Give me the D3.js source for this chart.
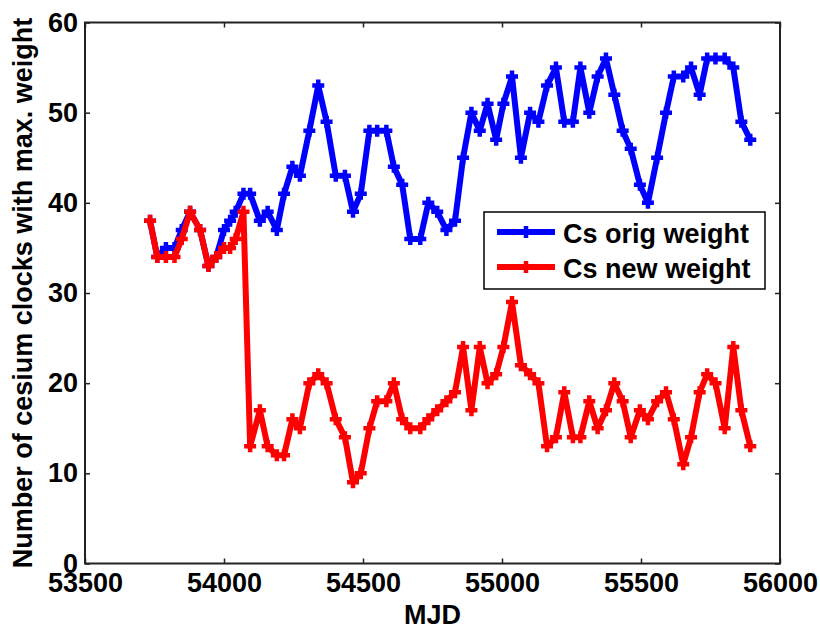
<!DOCTYPE html>
<html>
<head>
<meta charset="utf-8">
<script src="https://cdn.jsdelivr.net/npm/d3@7"></script>
<style>
  body { margin: 0; background: #fff; }
  .frame text { font-family: "Liberation Sans", Arial, sans-serif; font-weight: bold; }
</style>
</head>
<body>
<div id="vis1"></div>
<script>
// dates (MJD) shared by both series
const MJD = [53734, 53760, 53791, 53822, 53848, 53878, 53914, 53944, 53972, 54000,
             54022, 54042, 54070, 54094, 54129, 54157, 54190, 54216, 54246, 54273,
             54307, 54339, 54369, 54402, 54435, 54464, 54492, 54523, 54551, 54584,
             54611, 54641, 54670, 54706, 54735, 54767, 54800, 54831, 54860, 54890,
             54920, 54948, 54979, 55005, 55036, 55068, 55101, 55131, 55162, 55194,
             55224, 55255, 55282, 55314, 55344, 55374, 55404, 55434, 55463, 55496,
             55525, 55558, 55590, 55618, 55652, 55680, 55711, 55738, 55768, 55801,
             55832, 55861, 55893];

const ORIG_WEIGHT = [38, 34, 35, 35, 37, 39, 37, 33, 34, 37,
                     38, 39, 41, 41, 38, 39, 37, 41, 44, 43,
                     48, 53, 49, 43, 43, 39, 41, 48, 48, 48,
                     44, 42, 36, 36, 40, 39, 37, 38, 45, 50,
                     48, 51, 47, 51, 54, 45, 50, 49, 53, 55,
                     49, 49, 55, 50, 54, 56, 52, 48, 46, 42,
                     40, 45, 50, 54, 54, 55, 52, 56, 56, 56,
                     55, 49, 47];

const NEW_WEIGHT = [38, 34, 34, 34, 36, 39, 37, 33, 34, 35,
                    35, 36, 39, 13, 17, 13, 12, 12, 16, 15,
                    20, 21, 20, 16, 14, 9, 10, 15, 18, 18,
                    20, 16, 15, 15, 16, 17, 18, 19, 24, 17,
                    24, 20, 21, 24, 29, 22, 21, 20, 13, 14,
                    19, 14, 14, 18, 15, 17, 20, 18, 14, 17,
                    16, 18, 19, 16, 11, 14, 19, 21, 20, 15,
                    24, 17, 13];

const X_TICKS = [53500, 54000, 54500, 55000, 55500, 56000];
const Y_TICKS = [0, 10, 20, 30, 40, 50, 60];

const SERIES_NAMES = ["Cs orig weight", "Cs new weight"];
const SERIES_COLORS = ["#0000ff", "#ff0000"];

const FRAME_WIDTH = 820;
const FRAME_HEIGHT = 628;
const MARGINS = {left: 85, right: 40, top: 22.5, bottom: 64.5};
const VIS_WIDTH = FRAME_WIDTH - MARGINS.left - MARGINS.right;
const VIS_HEIGHT = FRAME_HEIGHT - MARGINS.top - MARGINS.bottom;

const FRAME1 = d3.select("#vis1")
                  .append("svg")
                    .attr("width", FRAME_WIDTH)
                    .attr("height", FRAME_HEIGHT)
                    .attr("class", "frame");

const X_SCALE = d3.scaleLinear()
                  .domain([53500, 56000])
                  .range([MARGINS.left, MARGINS.left + VIS_WIDTH]);

const Y_SCALE = d3.scaleLinear()
                  .domain([0, 60])
                  .range([MARGINS.top + VIS_HEIGHT, MARGINS.top]);

// box around plot
FRAME1.append("rect")
    .attr("x", MARGINS.left)
    .attr("y", MARGINS.top)
    .attr("width", VIS_WIDTH)
    .attr("height", VIS_HEIGHT)
    .attr("fill", "none")
    .attr("stroke", "#222")
    .attr("stroke-width", 2);

// bottom axis (ticks point inward)
FRAME1.append("g")
    .attr("transform", "translate(0," + (MARGINS.top + VIS_HEIGHT) + ")")
    .call(d3.axisBottom(X_SCALE).tickValues(X_TICKS).tickFormat(d3.format("d"))
            .tickSizeInner(-5).tickSizeOuter(0).tickPadding(9))
    .call(g => g.select(".domain").remove())
    .attr("font-size", "27px");

// top axis ticks only
FRAME1.append("g")
    .attr("transform", "translate(0," + MARGINS.top + ")")
    .call(d3.axisTop(X_SCALE).tickValues(X_TICKS).tickFormat("")
            .tickSizeInner(-5).tickSizeOuter(0))
    .call(g => g.select(".domain").remove());

// left axis
FRAME1.append("g")
    .attr("transform", "translate(" + MARGINS.left + ",0)")
    .call(d3.axisLeft(Y_SCALE).tickValues(Y_TICKS)
            .tickSizeInner(-5).tickSizeOuter(0).tickPadding(7))
    .call(g => g.select(".domain").remove())
    .attr("font-size", "27px");

// right axis ticks only
FRAME1.append("g")
    .attr("transform", "translate(" + (MARGINS.left + VIS_WIDTH) + ",0)")
    .call(d3.axisRight(Y_SCALE).tickValues(Y_TICKS).tickFormat("")
            .tickSizeInner(-5).tickSizeOuter(0))
    .call(g => g.select(".domain").remove());

FRAME1.selectAll(".tick line").attr("stroke", "#222").attr("stroke-width", 1.5);
FRAME1.selectAll(".tick text").attr("fill", "#000");

// axis titles
FRAME1.append("text")
    .attr("x", X_SCALE(54750))
    .attr("y", 624)
    .attr("text-anchor", "middle")
    .attr("font-size", "27px")
    .text("MJD");

FRAME1.append("text")
    .attr("transform", "translate(32," + (MARGINS.top + VIS_HEIGHT / 2) + ") rotate(-90)")
    .attr("text-anchor", "middle")
    .attr("font-size", "27px")
    .text("Number of cesium clocks with max. weight");

const PLUS = "M-6,0H6M0,-6V6";

function drawSeries(values, color) {
    const pts = MJD.map((d, i) => ({x: d, y: values[i]}));
    const line = d3.line()
                   .x(d => X_SCALE(d.x))
                   .y(d => Y_SCALE(d.y));
    FRAME1.append("path")
        .datum(pts)
        .attr("d", line)
        .attr("fill", "none")
        .attr("stroke", color)
        .attr("stroke-width", 6)
        .attr("stroke-linejoin", "round");
    FRAME1.append("g").selectAll("path")
        .data(pts)
        .enter()
        .append("path")
            .attr("d", PLUS)
            .attr("transform", d => "translate(" + X_SCALE(d.x) + "," + Y_SCALE(d.y) + ")")
            .attr("stroke", color)
            .attr("stroke-width", 4.5)
            .attr("fill", "none");
}

drawSeries(ORIG_WEIGHT, SERIES_COLORS[0]);
drawSeries(NEW_WEIGHT, SERIES_COLORS[1]);

// legend
const LEGEND = FRAME1.append("g").attr("transform", "translate(484,212)");
LEGEND.append("rect")
    .attr("width", 281)
    .attr("height", 77)
    .attr("fill", "#fff")
    .attr("stroke", "#000")
    .attr("stroke-width", 1.5);

SERIES_NAMES.forEach((name, i) => {
    const yy = 20 + i * 35;
    LEGEND.append("line")
        .attr("x1", 13).attr("x2", 71)
        .attr("y1", yy).attr("y2", yy)
        .attr("stroke", SERIES_COLORS[i])
        .attr("stroke-width", 6);
    LEGEND.append("path")
        .attr("d", PLUS)
        .attr("transform", "translate(42," + yy + ")")
        .attr("stroke", SERIES_COLORS[i])
        .attr("stroke-width", 4.5);
    LEGEND.append("text")
        .attr("x", 79)
        .attr("y", yy + 11)
        .attr("font-size", "27px")
        .text(name);
});
</script>
</body>
</html>
